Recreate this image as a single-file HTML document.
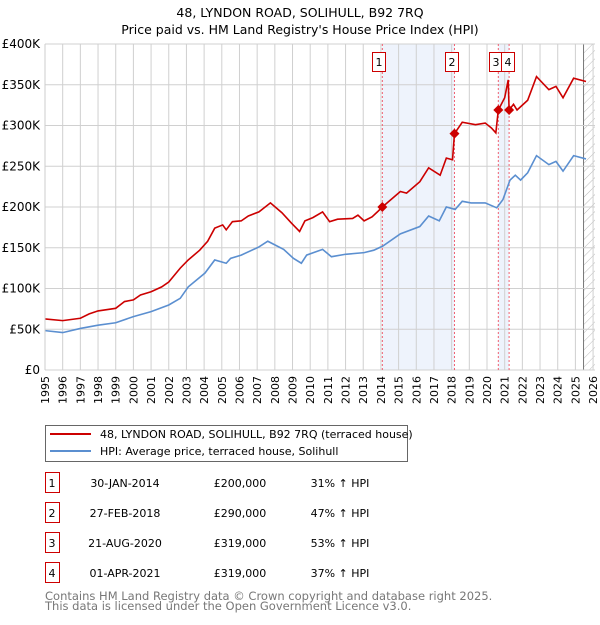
<!DOCTYPE html>
<html><head><meta charset="utf-8"><style>
body{margin:0;background:#fff;font-family:"Liberation Sans","DejaVu Sans",sans-serif;}
svg text{font-family:"DejaVu Sans","Liberation Sans",sans-serif;}
</style></head><body>
<svg id="c" width="600" height="620" viewBox="0 0 600 620">
<defs><pattern id="hatch" width="6" height="6" patternUnits="userSpaceOnUse" patternTransform="rotate(45)"><line x1="0" y1="0" x2="0" y2="6" stroke="#bbb" stroke-width="1"/></pattern></defs>
<text x="300" y="17" text-anchor="middle" font-size="12.5">48, LYNDON ROAD, SOLIHULL, B92 7RQ</text>
<text x="300" y="34" text-anchor="middle" font-size="12.5">Price paid vs. HM Land Registry's House Price Index (HPI)</text>
<g id="plot"></g>
<g>
<rect x="45.5" y="425.5" width="362" height="36" fill="#fff" stroke="#666"/>
<line x1="50" y1="434" x2="91" y2="434" stroke="#cc0000" stroke-width="2"/>
<text x="100" y="438" font-size="11">48, LYNDON ROAD, SOLIHULL, B92 7RQ (terraced house)</text>
<line x1="50" y1="451" x2="91" y2="451" stroke="#5b8fd0" stroke-width="2"/>
<text x="100" y="455" font-size="11">HPI: Average price, terraced house, Solihull</text>
</g>
<g id="table"></g>
<text x="45" y="600" font-size="11.5" fill="#777">Contains HM Land Registry data © Crown copyright and database right 2025.</text>
<text x="45" y="610" font-size="11.5" fill="#777">This data is licensed under the Open Government Licence v3.0.</text>
</svg>
<script>
const hpiYears=[1995,1996,1997,1998,1999,2000,2001,2002,2002.65,2003.1,2004.05,2004.6,2005.25,2005.5,2006.1,2007.1,2007.6,2008.5,2009.05,2009.5,2009.8,2010.7,2011.2,2012,2013.05,2013.6,2014.1,2015.1,2016.2,2016.7,2017.3,2017.7,2018.2,2018.6,2019.1,2019.9,2020.55,2020.9,2021.3,2021.6,2021.9,2022.3,2022.8,2023.5,2023.9,2024.3,2024.9,2025.6];
const hpiValues=[48.3,45.9,51,55,58,65.5,71.6,79.8,88,102,119,135,131,137,141,151,158,148,137,131,141,148,139,142,144,147,152,167,176,189,183,200,197,207,205,205,199,209,233,239,233,242,263,252,256,244,263,259];
const priceYears=[1995,1996,1997,1997.5,1998,1999,1999.5,2000,2000.4,2001,2001.6,2002,2002.65,2003.1,2003.75,2004.2,2004.6,2005.05,2005.25,2005.6,2006.1,2006.5,2007.1,2007.75,2008.4,2008.95,2009.4,2009.7,2010.15,2010.7,2011.1,2011.55,2012.4,2012.7,2013.05,2013.5,2013.8,2014.08,2015.1,2015.45,2016.2,2016.7,2017.35,2017.7,2018.05,2018.16,2018.6,2019.35,2019.9,2020.25,2020.5,2020.64,2021.0,2021.2,2021.25,2021.5,2021.7,2022.3,2022.8,2023.5,2023.9,2024.3,2024.9,2025.6];
const priceValues=[62.6,60.6,63.5,68.8,72.5,75.7,84,86,92,96,102,108,125,135,147,158,174,178,172,182,183,189,194,205,193,180,170,183,187,194,182,185,186,190,183,188,194,200,219,217,231,248,239,260,258,290,304,301,303,297,291,319,334,356,319,326,319,331,360,344,348,334,358,354];
const saleYears=[2014.08,2018.16,2020.64,2021.25];
const saleValues=[200,290,319,319];
const saleLabels=["1","2","3","4"];
const saleDates=["30-JAN-2014","27-FEB-2018","21-AUG-2020","01-APR-2021"];
const salePrices=["£200,000","£290,000","£319,000","£319,000"];
const saleHpi=["31% \u2191 HPI","47% \u2191 HPI","53% \u2191 HPI","37% \u2191 HPI"];
const yTicks=[0,50,100,150,200,250,300,350,400];
const yTickLabels=["£0","£50K","£100K","£150K","£200K","£250K","£300K","£350K","£400K"];
const xTicks=[1995,1996,1997,1998,1999,2000,2001,2002,2003,2004,2005,2006,2007,2008,2009,2010,2011,2012,2013,2014,2015,2016,2017,2018,2019,2020,2021,2022,2023,2024,2025,2026];

const NS="http://www.w3.org/2000/svg";
const L=45,R=595,T=44,B=370;
const x=y=>L+(y-1995)*17.68;
const yv=v=>B-(v/400)*(B-T);
function mk(tag,attrs,parent){const e=document.createElementNS(NS,tag);for(const k in attrs)e.setAttribute(k,attrs[k]);parent.appendChild(e);return e;}
const g=document.getElementById('plot');
// shaded ranges
let s=mk('rect',{x:x(saleYears[0]),y:T,width:x(saleYears[1])-x(saleYears[0]),height:B-T,fill:'#eef3fc'},g);


s=mk('rect',{x:x(saleYears[2]),y:T,width:x(saleYears[3])-x(saleYears[2]),height:B-T,fill:'#eef3fc'},g);


// hatch
const hx=x(2025.46);
s=mk('rect',{x:hx,y:T,width:R-hx,height:B-T,fill:'url(#hatch)'},g);


mk('line',{x1:hx,y1:T,x2:hx,y2:B,stroke:'#777','stroke-width':1},g);
// grid
xTicks.forEach((t,i)=>{
  const l=mk('line',{x1:x(t),y1:T,x2:x(t),y2:B,stroke:'#d0d0d0','stroke-width':1},g);
  
  
  const tx=mk('text',{x:0,y:0,'font-size':11,'text-anchor':'end',transform:`translate(${x(t)+4},${B+6}) rotate(-90)`},g);
  tx.textContent=t;
  
  
});
yTicks.forEach((t,i)=>{
  const l=mk('line',{x1:L,y1:yv(t),x2:R,y2:yv(t),stroke:'#d0d0d0','stroke-width':1},g);
  
  
  const tx=mk('text',{x:L-5,y:yv(t)+4,'font-size':12,'text-anchor':'end'},g);
  tx.textContent=yTickLabels[i];
  
  
});
// sale lines
saleYears.forEach((yr,i)=>{
  const l=mk('line',{x1:x(yr),y1:T,x2:x(yr),y2:B,stroke:'#f06070','stroke-width':1,'stroke-dasharray':'2,2'},g);
  
  
});
// series
let p=mk('polyline',{points:hpiYears.map((yr,i)=>x(yr)+','+yv(hpiValues[i])).join(' '),fill:'none',stroke:'#5b8fd0','stroke-width':1.6},g);


p=mk('polyline',{points:priceYears.map((yr,i)=>x(yr)+','+yv(priceValues[i])).join(' '),fill:'none',stroke:'#cc0000','stroke-width':1.6},g);


// sale points and boxes
const boxX=[372,445,489,501];
saleYears.forEach((yr,i)=>{
  const cx=x(yr),cy=yv(saleValues[i]);
  const d=mk('polygon',{points:`${cx},${cy-5} ${cx+5},${cy} ${cx},${cy+5} ${cx-5},${cy}`,fill:'#cc0000'},g);
  
  
  const r=mk('rect',{x:boxX[i]+0.5,y:52.5,width:13,height:19,fill:'#fff',stroke:'#cc0000'},g);
  
  
  const t=mk('text',{x:boxX[i]+7,y:66,'font-size':11,'text-anchor':'middle'},g);
  t.textContent=saleLabels[i];
  
  
});
// axis frame
mk('line',{x1:L,y1:T,x2:L,y2:B,stroke:'#ccc'},g);
// table
const tb=document.getElementById('table');
saleLabels.forEach((lab,i)=>{
  const cy=483+i*30;
  const r=mk('rect',{x:45.5,y:cy-10.5,width:14,height:20,fill:'#fff',stroke:'#cc0000'},tb);
  
  
  const vals=[[52,lab],[125,saleDates[i]],[240,salePrices[i]],[340,saleHpi[i]]];
  vals.forEach(v=>{
    const t=mk('text',{x:v[0],y:cy+4,'font-size':11,'text-anchor':'middle'},tb);
    t.textContent=v[1];
    
    
  });
});
</script>
</body></html>
